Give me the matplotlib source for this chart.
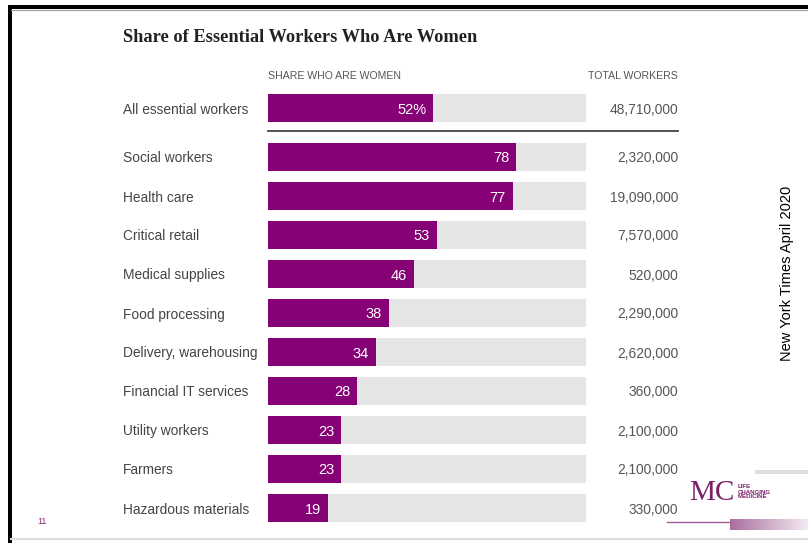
import matplotlib.pyplot as plt
import numpy as np
from matplotlib.transforms import blended_transform_factory
from matplotlib.patches import Rectangle
from matplotlib.colors import LinearSegmentedColormap

title = "Share of Essential Workers Who Are Women"
categories = [
    "All essential workers",
    "Social workers",
    "Health care",
    "Critical retail",
    "Medical supplies",
    "Food processing",
    "Delivery, warehousing",
    "Financial IT services",
    "Utility workers",
    "Farmers",
    "Hazardous materials",
]
share_women = [52, 78, 77, 53, 46, 38, 34, 28, 23, 23, 19]
total_workers = [48710000, 2320000, 19090000, 7570000, 520000, 2290000,
                 2620000, 360000, 2100000, 2100000, 330000]

PURPLE = "#860076"
GREY = "#e5e5e5"
W, H = 808, 543

fig = plt.figure(figsize=(W / 100, H / 100), dpi=100)
fig.patch.set_facecolor("white")

# bar axes: x in percent, y in pixel rows (top = 0)
ax = fig.add_axes([268 / W, 0, 318 / W, 1])
ax.set_xlim(0, 100)
ax.set_ylim(H, 0)
ax.axis("off")

ys = [108] + [157 + 39 * i for i in range(len(categories) - 1)]
ax.barh(ys, [100] * len(ys), height=28, color=GREY, linewidth=0)
ax.barh(ys, share_women, height=28, color=PURPLE, linewidth=0)

lab_tr = blended_transform_factory(fig.transFigure, ax.transData)
sans = ["Liberation Sans", "DejaVu Sans"]
for i, (cat, v, tot) in enumerate(zip(categories, share_women, total_workers)):
    lbl = f"{v}%" if i == 0 else str(v)
    ax.annotate(lbl, (v, ys[i]), xytext=(-5, 0), textcoords="offset points",
                ha="right", va="center_baseline", color="white", fontsize=10.5,
                family=sans)
    ax.text(123 / W, ys[i], cat, transform=lab_tr, ha="left", va="center_baseline",
            color="#444444", fontsize=9.9, family=sans)
    ax.text(678 / W, ys[i], f"{tot:,}", transform=lab_tr, ha="right",
            va="center_baseline", color="#555555", fontsize=9.9, family=sans)

# separator under the total row
ax.plot([0, (678 - 268) / 318 * 100], [131, 131], color="#444444", lw=1.3,
        clip_on=False)

ax.text(0, 75, "SHARE WHO ARE WOMEN", ha="left", va="center_baseline",
        color="#555555", fontsize=7.6, family=sans)
ax.text(678 / W, 75, "TOTAL WORKERS", transform=lab_tr, ha="right",
        va="center_baseline", color="#555555", fontsize=7.6, family=sans)

fig.text(123 / W, 1 - 38 / H, title, ha="left", va="center", color="#222222",
         fontsize=13.2, fontweight="bold", family=["Liberation Serif", "DejaVu Serif"])

# slide decorations
fig.text(787 / W, 1 - 273 / H, "New York Times April 2020", rotation=90,
         ha="center", va="center", fontsize=10.5, color="black", family=sans)
fig.text(42 / W, 1 - 521 / H, "11", ha="center", va="center", fontsize=6.5,
         color="#8a2a7a", family=sans)
fig.text(735 / W, 1 - 493 / H, "MC", ha="right", va="center", fontsize=21,
         color="#7a1f6a", family=["Liberation Serif", "DejaVu Serif"])
fig.text(738 / W, 1 - 492 / H, "LIFE\nCHANGING\nMEDICINE", ha="left", va="center",
         fontsize=4.4, color="#7a1f6a", fontweight="bold", linespacing=1.0,
         family=sans)

deco = fig.add_axes([0, 0, 1, 1], zorder=-1)
deco.set_xlim(0, W)
deco.set_ylim(H, 0)
deco.axis("off")
fade = LinearSegmentedColormap.from_list("fade", ["#a9709f", "#f3e9f1"])
grad = np.linspace(0, 1, 100).reshape(1, -1)
deco.imshow(grad, extent=[730, W, 530, 519], cmap=fade, aspect="auto")
deco.plot([667, 730], [522, 522], color="#a05a96", lw=1)
deco.add_patch(Rectangle((755, 470), 53, 4, color="#e2dce2", lw=0))
deco.add_patch(Rectangle((8, 5), W, 4, color="black", lw=0))
deco.add_patch(Rectangle((8, 5), 3.5, H, color="black", lw=0))
deco.plot([11, W], [10, 10], color="#999999", lw=0.8)
deco.plot([11, W], [538.5, 538.5], color="#dddddd", lw=1.5)

fig.savefig("out.png", dpi=100)
